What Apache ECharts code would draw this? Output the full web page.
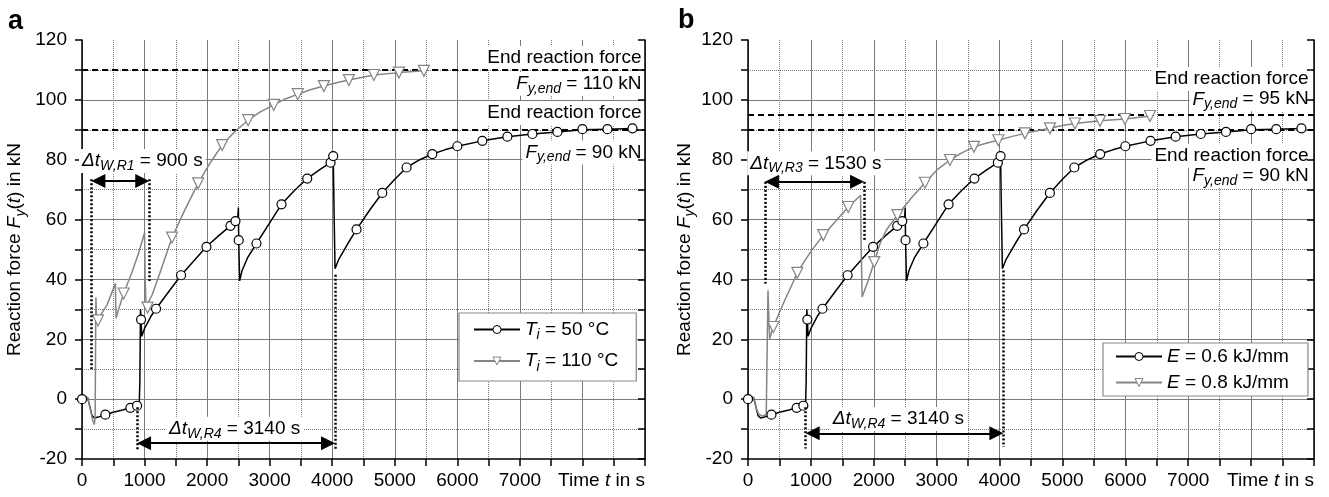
<!DOCTYPE html>
<html>
<head>
<meta charset="utf-8">
<script src="https://cdn.jsdelivr.net/npm/echarts@6/dist/echarts.min.js"></script>
<style>
html, body { margin: 0; padding: 0; background: #fff; }
#chart { width: 1329px; height: 497px; }
</style>
</head>
<body>
<div id="chart"></div>
<script>
var FONT = '"Liberation Sans", Arial, sans-serif'

// x tick labels that are printed (8000/9000 are left for the axis name)
var xLabels = [0, 1000, 2000, 3000, 4000, 5000, 6000, 7000]

// reference curve, T_i = 50 °C / E = 0.6 kJ/mm (same test in both panels)
var refPath = [[0, 0], [50, 0.8], [90, 0.5], [120, -2], [160, -5.5], [200, -6.3], [260, -6], [373, -5.2], [500, -4.4], [650, -3.6], [773, -2.9], [880, -2.2], [915, -2], [925, 6], [935, 30], [945, 26], [955, 21], [1000, 23.6], [1100, 27.6], [1184, 30.2], [1400, 36.3], [1584, 41.4], [1800, 46.5], [1989, 50.9], [2200, 54.9], [2373, 57.9], [2453, 59.5], [2490, 60.3], [2500, 64], [2505, 53.1], [2520, 39.5], [2560, 43], [2650, 47.4], [2789, 52], [3000, 58.9], [3189, 65.1], [3400, 69.8], [3600, 73.7], [3800, 76.7], [3973, 79], [4016, 81], [4030, 62], [4045, 43.6], [4100, 46.5], [4250, 52], [4389, 56.7], [4600, 63.2], [4800, 68.9], [5000, 73.5], [5189, 77.4], [5400, 80], [5600, 81.9], [5800, 83.3], [6000, 84.5], [6400, 86.3], [6800, 87.7], [7200, 88.6], [7600, 89.3], [8000, 90], [8400, 90.2], [8800, 90.4]]
var refMarks = [[0, 0], [373, -5.2], [773, -2.9], [880, -2.2], [944, 26.6], [1184, 30.2], [1584, 41.4], [1989, 50.9], [2373, 57.9], [2453, 59.5], [2505, 53.1], [2789, 52], [3189, 65.1], [3600, 73.7], [3973, 79], [4016, 81.2], [4389, 56.7], [4800, 68.9], [5189, 77.4], [5600, 81.9], [6000, 84.5], [6400, 86.3], [6800, 87.7], [7200, 88.6], [7600, 89.3], [8000, 90.2], [8400, 90.2], [8800, 90.5]]

// T_i = 110 °C
var hotPath = [[0, 0], [50, 0.8], [90, 0.5], [130, -3], [170, -7], [197, -8.5], [210, -6], [222, 34], [235, 26], [256, 26.3], [400, 31.5], [533, 38.6], [545, 27], [570, 29], [666, 35.3], [800, 42.5], [900, 48.5], [1000, 55.5], [1010, 40], [1025, 31], [1048, 30.6], [1120, 34.8], [1226, 41], [1300, 45.5], [1440, 54], [1650, 63.5], [1856, 72.1], [2050, 79], [2240, 84.9], [2450, 89.5], [2656, 93.2], [2850, 96], [3066, 98.3], [3250, 100.3], [3450, 101.9], [3650, 103.4], [3866, 104.6], [4066, 105.7], [4266, 106.6], [4466, 107.5], [4666, 108.3], [5066, 109.1], [5466, 109.7]]
var hotMarks = [[256, 26.3], [666, 35.3], [1048, 30.6], [1440, 54], [1856, 72.1], [2240, 84.9], [2656, 93.2], [3066, 98.3], [3450, 101.9], [3866, 104.6], [4266, 106.6], [4666, 108.3], [5066, 109.1], [5466, 109.7]]

// E = 0.8 kJ/mm
var highPath = [[0, 0], [50, 0.8], [90, 0.5], [130, -3], [170, -5], [220, -5.6], [290, -5.2], [310, -4.8], [318, 36.4], [330, 28], [345, 20.2], [403, 24.1], [500, 29], [588, 33.2], [700, 38.3], [784, 42.2], [900, 46.2], [1013, 49.7], [1197, 54.8], [1400, 59.6], [1595, 64.2], [1700, 66.3], [1790, 68.1], [1800, 50], [1815, 34.1], [1900, 39], [2008, 45.8], [2100, 52], [2200, 56.5], [2376, 61.5], [2600, 67.3], [2815, 72.3], [3000, 76.5], [3212, 79.9], [3400, 82.3], [3593, 84.3], [3800, 85.6], [3980, 86.5], [4200, 87.8], [4404, 88.8], [4600, 89.7], [4802, 90.5], [5000, 91.4], [5200, 92.1], [5597, 93], [5994, 93.6], [6392, 94.6]]
var highMarks = [[403, 24.1], [784, 42.2], [1197, 54.8], [1595, 64.2], [2008, 45.8], [2376, 61.5], [2815, 72.3], [3212, 79.9], [3593, 84.3], [3980, 86.5], [4404, 88.8], [4802, 90.5], [5200, 92.1], [5597, 93], [5994, 93.6], [6392, 94.6]]

// end reaction forces (kN)
var endForceA = [110, 90]
var endForceB = [95, 90]

var namesA = ['Ti = 50 °C', 'Ti = 110 °C']
var namesB = ['E = 0.6 kJ/mm', 'E = 0.8 kJ/mm']
var legendText = {
  'Ti = 50 °C': '{i|T}{s|i}{n| = 50 °C}',
  'Ti = 110 °C': '{i|T}{s|i}{n| = 110 °C}',
  'E = 0.6 kJ/mm': '{i|E}{n| = 0.6 kJ/mm}',
  'E = 0.8 kJ/mm': '{i|E}{n| = 0.8 kJ/mm}'
}

var BLACK = '#000'
var GREY = '#858585'

function rich (lh) {
  return {
    n: { fontSize: 19, fontFamily: FONT, color: '#000', lineHeight: lh },
    i: { fontSize: 19, fontFamily: FONT, fontStyle: 'italic', color: '#000', lineHeight: lh },
    s: { fontSize: 14, fontFamily: FONT, fontStyle: 'italic', color: '#000', lineHeight: 13, verticalAlign: 'bottom' }
  }
}

function xAxis (gi) {
  return {
    type: 'value', gridIndex: gi, min: 0, max: 9000, interval: 1000,
    axisLine: { onZero: false, lineStyle: { color: BLACK, width: 1.5 } },
    axisTick: { length: 7, lineStyle: { color: BLACK, width: 1.5 } },
    minorTick: { show: true, splitNumber: 2, length: 7, lineStyle: { color: BLACK, width: 1.5 } },
    splitLine: { show: true, lineStyle: { color: '#7a7a7a', width: 1 } },
    minorSplitLine: { show: true, lineStyle: { color: '#7a7a7a', width: 1, type: 'dotted' } },
    axisLabel: {
      margin: 12, fontSize: 19, color: '#000', fontFamily: FONT,
      formatter: function (v) { return xLabels.indexOf(v) >= 0 ? String(v) : '' }
    },
    name: '{n|Time }{i|t}{n| in s}',
    nameLocation: 'end', nameGap: 0,
    nameTextStyle: { align: 'right', verticalAlign: 'top', padding: [12, 0, 0, 0], rich: rich(19) }
  }
}

function yLeft (gi, gap) {
  return {
    type: 'value', gridIndex: gi, min: -20, max: 120, interval: 20, position: 'left',
    axisLine: { show: true, onZero: false, lineStyle: { color: BLACK, width: 1.5 } },
    axisTick: { show: true, length: 7, lineStyle: { color: BLACK, width: 1.5 } },
    minorTick: { show: true, splitNumber: 2, length: 7, lineStyle: { color: BLACK, width: 1.5 } },
    splitLine: { show: true, showMinLine: false, showMaxLine: false, lineStyle: { color: '#7a7a7a', width: 1 } },
    minorSplitLine: { show: true, lineStyle: { color: '#7a7a7a', width: 1, type: 'dotted' } },
    axisLabel: { margin: 15, fontSize: 19, color: '#000', fontFamily: FONT },
    name: '{n|Reaction force }{i|F}{s|y}{n|(}{i|t}{n|) in kN}',
    nameLocation: 'middle', nameRotate: 90, nameGap: gap,
    nameTextStyle: { rich: rich(26) }
  }
}

function yRight (gi) {
  return {
    type: 'value', gridIndex: gi, min: -20, max: 120, interval: 10, position: 'right', z: 3,
    axisLine: { show: true, onZero: false, lineStyle: { color: BLACK, width: 1.5 } },
    axisTick: { show: true, inside: true, length: 7, lineStyle: { color: BLACK, width: 1.5 } },
    axisLabel: { show: false },
    splitLine: { show: false }
  }
}

function pathSeries (name, data, xi, yi, color, sym) {
  return {
    name: name, type: 'line', xAxisIndex: xi, yAxisIndex: yi, data: data,
    showSymbol: false, symbol: sym, symbolRotate: sym === 'triangle' ? 180 : 0,
    lineStyle: { color: color, width: 1.5 },
    itemStyle: { color: '#fff', borderColor: color, borderWidth: 1.2 },
    z: 2
  }
}

function markSeries (name, data, xi, yi, color, sym) {
  return {
    name: name, type: 'scatter', xAxisIndex: xi, yAxisIndex: yi, data: data,
    symbol: sym, symbolSize: sym === 'triangle' ? 11 : 9, symbolRotate: sym === 'triangle' ? 180 : 0,
    itemStyle: { color: '#fff', borderColor: color, borderWidth: 1.2, opacity: 1 },
    z: 3
  }
}

function textItem (t, f, text, pos) {
  return { coord: [t, f], label: { formatter: text, position: pos } }
}

// labels just above the grid, dashed end-force lines above the labels
function labelSeries (xi, yi, ends, items) {
  return {
    type: 'line', xAxisIndex: xi, yAxisIndex: yi, data: [],
    markLine: {
      silent: true, z: 2, symbol: ['none', 'none'], label: { show: false },
      lineStyle: { color: BLACK, width: 2, type: [6, 4] },
      data: ends.map(function (v) { return { yAxis: v } })
    },
    markPoint: {
      silent: true, z: 1, symbol: 'rect', symbolSize: 1, itemStyle: { color: 'rgba(0,0,0,0)' },
      label: { show: true, distance: 0, backgroundColor: '#fff', padding: [0, 3, 0, 3], color: '#000', fontFamily: FONT, fontSize: 19, rich: rich(24) },
      data: items
    }
  }
}

function span (t1, t2, f) {
  return [{ coord: [t1, f] }, { coord: [t2, f] }]
}
function drop (t, f1, f2) {
  return [{ coord: [t, f1] }, { coord: [t, f2] }]
}

// double arrows for the weld time spans (heads are centred on the ends)
function arrowSeries (xi, yi, lines) {
  return {
    type: 'line', xAxisIndex: xi, yAxisIndex: yi, data: [],
    markLine: {
      silent: true, z: 6, symbol: ['triangle', 'triangle'], symbolSize: 14, label: { show: false },
      lineStyle: { color: BLACK, width: 2, type: 'solid' },
      data: lines
    }
  }
}
// dotted guide lines
function dotSeries (xi, yi, lines) {
  return {
    type: 'line', xAxisIndex: xi, yAxisIndex: yi, data: [],
    markLine: {
      silent: true, z: 6, symbol: ['none', 'none'], label: { show: false },
      lineStyle: { color: BLACK, width: 2.5, type: [2, 2] },
      data: lines
    }
  }
}

function legend (names, left, top, gap, pad, lh) {
  return {
    data: names, orient: 'vertical', left: left, top: top, itemGap: gap,
    itemWidth: 46, itemHeight: 10, padding: pad,
    backgroundColor: '#fff', borderColor: '#8a8a8a', borderWidth: 1.2, borderRadius: 0,
    itemStyle: { borderWidth: 1 },
    formatter: function (n) { return legendText[n] },
    textStyle: { fontSize: 19, fontFamily: FONT, color: '#000', rich: rich(lh) }
  }
}

var chart = echarts.init(document.getElementById('chart'))
chart.setOption({
  animation: false,
  backgroundColor: '#fff',
  title: [
    { text: 'a', left: 8, top: 8, padding: 0, textStyle: { fontSize: 27, fontWeight: 'bold', fontFamily: FONT, color: '#000' } },
    { text: 'b', left: 678, top: 7, padding: 0, textStyle: { fontSize: 27, fontWeight: 'bold', fontFamily: FONT, color: '#000' } }
  ],
  grid: [
    { left: 82, top: 40, width: 563, height: 419 },
    { left: 748, top: 40, width: 566, height: 419 }
  ],
  xAxis: [xAxis(0), xAxis(1)],
  yAxis: [yLeft(0, 54), yRight(0), yLeft(1, 47), yRight(1)],
  legend: [
    legend(namesA, 459, 313, 9, [7, 18, 7, 14], 26),
    legend(namesB, 1103, 343, 7, [4, 19, 4, 12], 20)
  ],
  series: [
    pathSeries(namesA[0], refPath, 0, 0, BLACK, 'circle'),
    pathSeries(namesA[1], hotPath, 0, 0, GREY, 'triangle'),
    markSeries(namesA[0], refMarks, 0, 0, BLACK, 'circle'),
    markSeries(namesA[1], hotMarks, 0, 0, GREY, 'triangle'),
    labelSeries(0, 0, endForceA, [
      textItem(9000, 114, '{n|End reaction force}', 'left'),
      textItem(9000, 105.4, '{i|F}{s|y,end}{n| = 110 kN}', 'left'),
      textItem(9000, 95.6, '{n|End reaction force}', 'left'),
      textItem(9000, 82.4, '{i|F}{s|y,end}{n| = 90 kN}', 'left'),
      textItem(965, 79.6, '{i|Δt}{s|W,R1}{n| = 900 s}', 'inside'),
      textItem(2440, -9.9, '{i|Δt}{s|W,R4}{n| = 3140 s}', 'inside')
    ]),
    arrowSeries(0, 0, [span(262, 963, 72.9), span(992, 3933, -14.7)]),
    dotSeries(0, 0, [
      drop(150, 73.5, 10), drop(1075, 73.5, 39.5),
      drop(880, -2.7, -17.2), drop(4045, 41.6, -17.2)
    ]),

    pathSeries(namesB[0], refPath, 1, 2, BLACK, 'circle'),
    pathSeries(namesB[1], highPath, 1, 2, GREY, 'triangle'),
    markSeries(namesB[0], refMarks, 1, 2, BLACK, 'circle'),
    markSeries(namesB[1], highMarks, 1, 2, GREY, 'triangle'),
    labelSeries(1, 2, endForceB, [
      textItem(8970, 107, '{n|End reaction force}', 'left'),
      textItem(8970, 100.2, '{i|F}{s|y,end}{n| = 95 kN}', 'left'),
      textItem(8970, 81.3, '{n|End reaction force}', 'left'),
      textItem(8970, 74.6, '{i|F}{s|y,end}{n| = 90 kN}', 'left'),
      textItem(1078, 78.8, '{i|Δt}{s|W,R3}{n| = 1530 s}', 'inside'),
      textItem(2392, -6.6, '{i|Δt}{s|W,R4}{n| = 3140 s}', 'inside')
    ]),
    arrowSeries(1, 2, [span(381, 1734, 72.6), span(1029, 3949, -11.4)]),
    dotSeries(1, 2, [
      drop(270, 72.6, 38.6), drop(1845, 72.6, 53),
      drop(918, -2.7, -16.5), drop(4060, 43, -16)
    ])
  ]
})
</script>
</body>
</html>
